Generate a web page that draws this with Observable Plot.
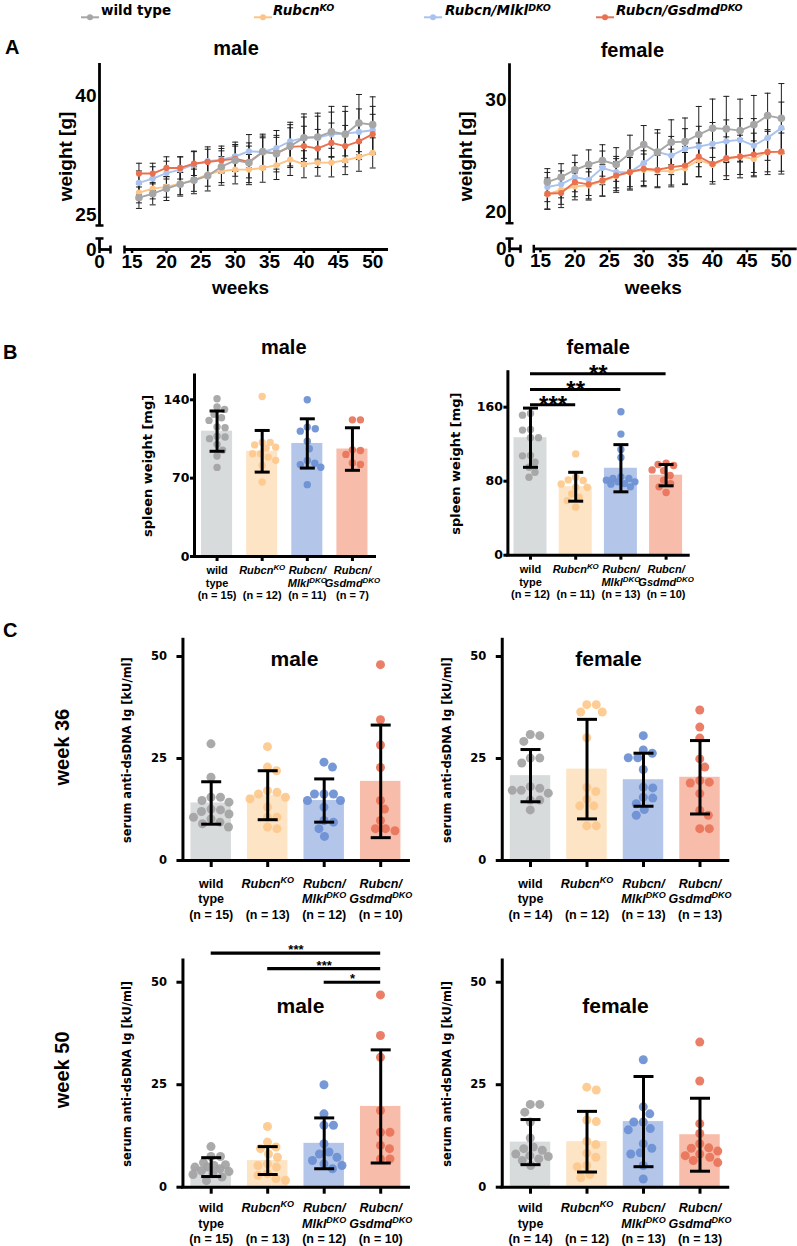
<!DOCTYPE html>
<html><head><meta charset="utf-8">
<script src="https://cdn.jsdelivr.net/npm/d3@7"></script>
<script src="https://cdn.jsdelivr.net/npm/@observablehq/plot@0.6"></script>
<style>
body{margin:0;background:#fff;}
#fig{position:relative;width:797px;height:1246px;overflow:hidden;background:#fff;font-family:'Liberation Sans',Arial,sans-serif;}
.plbl{position:absolute;font-weight:bold;font-size:20px;line-height:20px;}
.leg{position:absolute;font-family:'DejaVu Sans',Verdana,sans-serif;font-weight:bold;font-size:13.5px;line-height:16px;white-space:nowrap;}
.leg sup{font-size:70%;vertical-align:0.45em;line-height:0;}
</style></head><body><div id="fig"></div>
<script>
// ---------------- DATA ----------------
const groups = ["wt", "ko", "mlkl", "gsdmd"];
const tickLines = [["wild", "type"], ["~Rubcn^KO", ""], ["~Rubcn/", "~Mlkl^DKO"], ["~Rubcn/", "~Gsdmd^DKO"]];

// Panel A: body weight over time (mean, SD)
const weeks = [16, 18, 20, 22, 24, 26, 28, 30, 32, 34, 36, 38, 40, 42, 44, 46, 48, 50];
const weightMaleWT    = [27.2, 27.7, 28.35, 28.9, 29.4, 29.95, 31.1, 31.9, 31.6, 33.0, 32.75, 33.7, 34.75, 34.85, 35.5, 35.2, 36.6, 36.4];
const weightMaleKO    = [27.85, 28.35, 28.56, 28.98, 29.4, 30.15, 30.57, 30.74, 30.74, 30.95, 31.29, 32.0, 31.41, 31.62, 31.62, 31.91, 32.33, 32.84];
const weightMaleMlkl  = [29.07, 29.6, 30.3, 30.74, 31.37, 31.8, 32.0, 32.4, 33.05, 32.96, 33.46, 34.3, 34.76, 34.76, 35.18, 35.27, 35.48, 35.7];
const weightMaleGsdmd = [30.24, 30.24, 30.95, 30.95, 31.5, 31.7, 31.9, 32.1, 31.7, 32.95, 32.8, 33.6, 33.7, 33.4, 34.1, 33.7, 34.3, 35.2];
const sdMaleWT    = [1.35, 1.4, 1.5, 1.5, 1.7, 1.9, 2.0, 2.0, 2.5, 2.2, 2.3, 2.7, 3.0, 3.0, 3.2, 3.5, 3.6, 3.5];
const sdMaleKO    = [1.3, 1.3, 1.3, 1.4, 1.4, 1.5, 1.8, 1.8, 1.9, 1.8, 1.8, 2.0, 1.7, 1.7, 1.8, 1.8, 1.8, 1.9];
const sdMaleMlkl  = [1.5, 1.5, 1.5, 1.6, 1.7, 1.8, 1.7, 1.8, 2.1, 2.0, 2.2, 2.4, 2.6, 2.7, 2.8, 2.8, 2.9, 3.0];
const sdMaleGsdmd = [1.3, 1.3, 1.4, 1.4, 1.5, 1.6, 1.5, 1.6, 2.0, 1.8, 2.0, 2.4, 2.5, 2.4, 2.5, 2.6, 2.3, 2.5];

const weightFemaleWT    = [22.66, 23.1, 23.76, 24.23, 24.59, 24.23, 25.24, 26.0, 25.33, 26.21, 26.27, 26.9, 27.46, 27.4, 27.25, 27.78, 28.58, 28.34];
const weightFemaleKO    = [21.57, 21.98, 22.28, 22.37, 22.72, 23.2, 23.55, 23.76, 23.64, 23.64, 23.9, 24.64, 24.2, 24.73, 24.94, 24.73, 25.38, 25.33];
const weightFemaleMlkl  = [22.22, 22.46, 23.1, 22.87, 23.93, 23.55, 23.55, 24.35, 25.33, 25.03, 25.62, 25.83, 26.07, 26.3, 26.42, 25.92, 26.6, 27.49];
const weightFemaleGsdmd = [21.63, 21.69, 22.66, 22.46, 22.81, 23.25, 23.55, 23.85, 23.76, 24.0, 24.14, 24.94, 24.29, 24.79, 24.94, 25.12, 25.33, 25.38];
const sdFemaleWT    = [1.2, 1.2, 1.3, 1.3, 1.4, 1.5, 1.6, 1.7, 2.0, 2.0, 2.1, 2.5, 2.6, 2.9, 2.8, 2.6, 2.0, 3.1];
const sdFemaleKO    = [1.3, 1.3, 1.2, 1.2, 1.3, 1.3, 1.3, 1.4, 1.4, 1.4, 1.4, 1.5, 1.5, 1.5, 1.6, 1.6, 1.8, 1.7];
const sdFemaleMlkl  = [1.3, 1.2, 1.3, 1.4, 1.5, 1.4, 1.6, 1.6, 1.7, 1.7, 1.8, 1.8, 1.9, 1.9, 1.9, 2.4, 2.0, 2.3];
const sdFemaleGsdmd = [1.4, 1.3, 1.3, 1.4, 1.4, 1.5, 1.5, 1.6, 1.6, 1.6, 1.7, 1.8, 1.8, 1.9, 1.9, 1.9, 2.0, 2.0];

// Panel B: spleen weight [mg]
const spleenMaleWT    = [140.9, 131.4, 133.5, 127, 124, 121.6, 115.7, 115.1, 107.4, 106.8, 105.3, 100.2, 95, 89.8, 79.6];
const spleenMaleKO    = [142.9, 102, 102, 99.7, 97.7, 97, 91.8, 91.8, 88.8, 85.9, 81.4, 66.5];
const spleenMaleMlkl  = [140, 114.1, 115.6, 112, 103, 96.2, 85.7, 83.3, 82.1, 79.7, 64.2];
const spleenMaleGsdmd = [122.1, 122.1, 94.7, 95.3, 91.2, 83.5, 82.3];
const spleenMaleMean = [112, 94, 101, 96];
const spleenMaleSD   = [18, 18.6, 22, 19];
const spleenMaleN    = [15, 12, 11, 7];

const spleenFemaleWT    = [153.2, 151.4, 135.2, 135.9, 126.9, 126.9, 107.8, 107.4, 100.6, 84.3, 89.7, 95.1];
const spleenFemaleKO    = [109.5, 80.7, 84.3, 81.4, 77, 73.5, 66.2, 62.6, 59, 51.8, 73.4];
const spleenFemaleMlkl  = [155, 130.9, 105.6, 114.2, 81.1, 79.3, 77.4, 82.9, 76.8, 79.3, 84.7, 73.9, 82.9];
const spleenFemaleGsdmd = [98, 99.4, 96.9, 91.4, 92.2, 86.1, 81.1, 77.4, 73.9, 67.7];
const spleenFemaleMean = [127, 74, 94, 86.5];
const spleenFemaleSD   = [32, 15.6, 25.5, 11.5];
const spleenFemaleN    = [12, 11, 13, 10];
const spleenFemaleSig  = [{a: 0, b: 1, y: 162.6, label: "***"}, {a: 0, b: 2, y: 179.1, label: "**"}, {a: 0, b: 3, y: 196.1, label: "**"}];

// Panel C: serum anti-dsDNA Ig [kU/ml]
const dsdna36MaleWT    = [28.6, 20.4, 15.5, 15.5, 14.7, 14.3, 12.6, 12.4, 11.4, 10.6, 10.2, 9.4, 9.0, 8.2, 12.0];
const dsdna36MaleKO    = [27.9, 22.0, 22.9, 16.3, 16.7, 17.1, 15.5, 15.1, 13.1, 10.6, 10.6, 7.8, 8.2];
const dsdna36MaleMlkl  = [24.1, 22.9, 16.3, 16.3, 16.3, 14.7, 14.7, 9.4, 9.8, 7.8, 5.9, 13.1];
const dsdna36MaleGsdmd = [48.0, 34.5, 28.3, 22.8, 14.7, 12.6, 9.8, 7.8, 7.3, 7.8];
const dsdna36MaleMean = [14.1, 16.0, 14.7, 19.4];
const dsdna36MaleSD   = [5.2, 6.0, 5.3, 13.8];
const dsdna36MaleN    = [15, 13, 12, 10];

const dsdna36FemaleWT    = [30.6, 30.9, 29.2, 25.1, 25.1, 23.9, 18.1, 17.7, 17.2, 17.2, 14.8, 14.8, 12.4, 16.5];
const dsdna36FemaleKO    = [38.2, 38.2, 36.4, 36.4, 30.1, 16.9, 17.9, 15.0, 13.4, 13.4, 8.5, 8.5];
const dsdna36FemaleMlkl  = [30.6, 26.3, 27.1, 25.2, 25.2, 22.3, 17.8, 18.0, 15.5, 15.3, 13.9, 12.5, 11.1];
const dsdna36FemaleGsdmd = [36.9, 32.7, 30.0, 24.9, 22.9, 19.2, 19.6, 19.0, 16.4, 11.1, 12.3, 7.8, 7.8];
const dsdna36FemaleMean = [20.8, 22.4, 19.8, 20.4];
const dsdna36FemaleSD   = [6.4, 12.2, 6.5, 9.0];
const dsdna36FemaleN    = [14, 12, 13, 13];

const dsdna50MaleWT    = [9.9, 7.5, 7.5, 6.0, 4.9, 4.9, 5.3, 4.5, 3.3, 3.1, 2.5, 1.6, 4.0, 5.5, 3.8];
const dsdna50MaleKO    = [14.8, 9.8, 9.4, 8.1, 7.3, 5.7, 5.3, 4.9, 3.3, 2.9, 2.1, 1.7, 11.0];
const dsdna50MaleMlkl  = [25.0, 17.9, 15.1, 15.1, 10.6, 8.6, 7.3, 6.5, 8.1, 5.7, 5.3, 4.5];
const dsdna50MaleGsdmd = [46.9, 37.0, 31.7, 18.7, 13.4, 13.4, 10.2, 9.4, 6.9, 6.9];
const dsdna50MaleMean = [4.9, 6.5, 10.7, 19.7];
const dsdna50MaleSD   = [2.3, 3.4, 6.2, 13.8];
const dsdna50MaleN    = [15, 13, 12, 10];
const dsdna50MaleSig  = [{a: 0, b: 3, y: 57.1, label: "***"}, {a: 1, b: 3, y: 53.3, label: "***"}, {a: 2, b: 3, y: 50.0, label: "*"}];

const dsdna50FemaleWT    = [20.2, 20.2, 18.3, 15.9, 12.0, 9.8, 9.4, 9.0, 8.1, 7.7, 7.5, 6.9, 5.3, 6.5];
const dsdna50FemaleKO    = [23.7, 24.4, 16.4, 16.0, 10.4, 11.2, 7.3, 8.3, 5.0, 5.3, 2.3, 3.1];
const dsdna50FemaleMlkl  = [31.1, 17.9, 19.6, 15.9, 15.9, 14.3, 14.0, 9.5, 8.4, 10.6, 5.3, 8.1, 2.0];
const dsdna50FemaleGsdmd = [35.4, 25.9, 15.5, 13.1, 10.6, 9.5, 8.8, 9.6, 8.1, 7.7, 6.0, 6.5, 7.3];
const dsdna50FemaleMean = [11.0, 11.1, 16.0, 12.8];
const dsdna50FemaleSD   = [5.5, 7.4, 11.0, 8.9];
const dsdna50FemaleN    = [14, 12, 13, 13];

// ---------------- STYLE ----------------
const dotColor  = {wt: "#a3a3a3", ko: "#fdc98c", mlkl: "#6b8fd4", gsdmd: "#e8735a"};
const barColor  = {wt: "#d8dbdc", ko: "#fde4c4", mlkl: "#b3c6e9", gsdmd: "#f7bcaa"};
const lineColor = {wt: "#a6a6a6", ko: "#fcc486", mlkl: "#a9c3ee", gsdmd: "#e9714f"};
const fontSans = "'Liberation Sans', Arial, Helvetica, sans-serif";
const fontWide = "'DejaVu Sans', Verdana, sans-serif";
const SVGNS = "http://www.w3.org/2000/svg";
const fig = document.getElementById("fig");

const hbar = {draw(ctx, size) { const w = Math.sqrt(size / Math.PI); ctx.moveTo(-w, 0); ctx.lineTo(w, 0); }};
const vbar = {draw(ctx, size) { const w = Math.sqrt(size / Math.PI); ctx.moveTo(0, -w); ctx.lineTo(0, w); }};

function richify(svg) {
  svg.querySelectorAll("text, tspan").forEach((el) => {
    if (el.children.length) return;
    let s = el.textContent;
    if (!s.includes("~") && !s.includes("^")) return;
    const italic = s.startsWith("~");
    if (italic) s = s.slice(1);
    const [base, sup] = s.split("^");
    el.textContent = "";
    const t1 = document.createElementNS(SVGNS, "tspan");
    t1.textContent = base;
    if (italic) t1.setAttribute("font-style", "italic");
    el.appendChild(t1);
    if (sup) {
      const t2 = document.createElementNS(SVGNS, "tspan");
      t2.textContent = sup;
      t2.setAttribute("font-size", "72%");
      t2.setAttribute("baseline-shift", "super");
      if (italic) t2.setAttribute("font-style", "italic");
      el.appendChild(t2);
    }
  });
}

function place(svg, left, top) {
  svg.style.position = "absolute";
  svg.style.left = left + "px";
  svg.style.top = top + "px";
  svg.style.overflow = "visible";
  svg.style.background = "transparent";
  richify(svg);
  fig.appendChild(svg);
}

// deterministic scatter spread (in category units): points keep clear of each other
// where possible, staying within +/- limit px of the column centre (overlapping if needed)
function swarm(values, pxPerUnit, dist, limit, stepPx) {
  const pts = values.map((v, i) => ({v, i, y: v * pxPerUnit, x: 0}));
  const order = pts.slice().sort((a, b) => b.v - a.v);
  const placed = [];
  const out = new Array(values.length);
  const grid = d3.range(-limit, limit + 0.001, 0.5);
  let flip = 1;
  for (const p of order) {
    const near = placed.filter((q) => Math.abs(q.y - p.y) < dist);
    const minDist = (c) => near.reduce((m, q) => Math.min(m, Math.hypot(q.x - c, q.y - p.y)), Infinity);
    const cands = grid.slice().sort((a, b) => (Math.abs(a) - Math.abs(b)) || (flip * (b - a)));
    let x = null;
    for (const c of cands) { if (minDist(c) >= dist) { x = c; break; } }
    if (x === null) {
      let best = -1;
      for (const c of cands) { const m = minDist(c); if (m > best + 1e-9) { best = m; x = c; } }
    }
    flip = -flip;
    p.x = x;
    placed.push(p);
    out[p.i] = x / stepPx;
  }
  return out;
}

// ---------------- PANEL A ----------------
function weightPanel(o) {
  const rows = [];
  groups.forEach((g, gi) => o.mean[gi].forEach((m, i) => rows.push({g, week: weeks[i], mean: m, sd: o.sd[gi][i]})));
  const drawOrder = ["mlkl", "ko", "gsdmd", "wt"];
  const axisW = 2.8;
  const svg = Plot.plot({
    width: o.width, height: o.height,
    marginLeft: o.x.range[0], marginRight: o.width - o.x.range[2],
    marginTop: o.y.range[2], marginBottom: o.height - o.y.range[0],
    x: {type: "linear", domain: o.x.domain, range: o.x.range},
    y: {type: "linear", domain: o.y.domain, range: o.y.range},
    style: {fontFamily: fontSans, fontWeight: "bold", color: "black"},
    marks: [
      Plot.ruleX([0], {y1: 0, y2: o.yStub, strokeWidth: axisW}),
      Plot.ruleX([0], {y1: o.y.domain[1], y2: o.y.domain[2], strokeWidth: axisW}),
      Plot.ruleY([0], {x1: 0, x2: o.xStub, strokeWidth: axisW}),
      Plot.ruleY([0], {x1: o.x.domain[1], x2: o.x.domain[2], strokeWidth: axisW}),
      Plot.dot([o.y.domain[1], o.yStub], {x: 0, y: (d) => d, symbol: hbar, r: 4, fill: "none", stroke: "black", strokeWidth: 2.5}),
      Plot.dot([o.xStub, o.x.domain[1]], {x: (d) => d, y: 0, symbol: vbar, r: 4, fill: "none", stroke: "black", strokeWidth: 2.5}),
      Plot.ruleX(rows, {x: "week", y1: (d) => d.mean - d.sd, y2: (d) => d.mean + d.sd, stroke: "#1e1e1e", strokeWidth: 1}),
      Plot.dot(rows, {x: "week", y: (d) => d.mean + d.sd, symbol: hbar, r: 3, fill: "none", stroke: "#1e1e1e", strokeWidth: 1}),
      Plot.dot(rows, {x: "week", y: (d) => d.mean - d.sd, symbol: hbar, r: 3, fill: "none", stroke: "#1e1e1e", strokeWidth: 1}),
      ...drawOrder.flatMap((g) => [
        Plot.line(rows.filter((d) => d.g === g), {x: "week", y: "mean", stroke: lineColor[g], strokeWidth: 1.9}),
        Plot.dot(rows.filter((d) => d.g === g), {x: "week", y: "mean", fill: lineColor[g], r: g === "wt" ? 3.8 : 3.1})
      ]),
      Plot.axisX({ticks: o.xTicks, tickSize: 4, tickPadding: 1, strokeWidth: 2.5, fontSize: 19, fontFamily: fontSans, fontWeight: "bold", label: null}),
      Plot.axisY({ticks: o.yTicks, tickSize: 0, tickPadding: 3, fontSize: 19, fontFamily: fontSans, fontWeight: "bold", label: null}),
      Plot.text([o.title], {text: (d) => d, frameAnchor: "top", lineAnchor: "middle", textAnchor: "middle", dx: o.titleDx, dy: o.titleDy, fontSize: 20, fontWeight: "bold", fontFamily: fontSans}),
      Plot.text(["weeks"], {text: (d) => d, frameAnchor: "bottom", lineAnchor: "middle", textAnchor: "middle", dx: o.weeksDx, dy: o.weeksDy, fontSize: 19, fontWeight: "bold", fontFamily: fontSans}),
      Plot.text(["weight [g]"], {text: (d) => d, frameAnchor: "left", lineAnchor: "middle", textAnchor: "middle", rotate: -90, dx: o.ylabDx, fontSize: 19, fontWeight: "bold", fontFamily: fontSans})
    ]
  });
  place(svg, o.left, o.top);
}

weightPanel({
  left: 40, top: 40, width: 360, height: 260,
  x: {domain: [0, 13.9, 52.3], range: [59, 84, 348]},
  y: {domain: [0, 23.7, 44.1], range: [209, 185, 23]},
  xStub: 6.1, yStub: 10.9,
  xTicks: [0, 15, 20, 25, 30, 35, 40, 45, 50], yTicks: [0, 25, 40],
  mean: [weightMaleWT, weightMaleKO, weightMaleMlkl, weightMaleGsdmd],
  sd: [sdMaleWT, sdMaleKO, sdMaleMlkl, sdMaleGsdmd],
  title: "male", titleDx: -8, titleDy: -14.5, weeksDx: -3.5, weeksDy: 38, ylabDx: -34
});
weightPanel({
  left: 440, top: 40, width: 357, height: 260,
  x: {domain: [0, 14.03, 52.3], range: [69, 93.3, 356.7]},
  y: {domain: [0, 19.0, 33.2], range: [208.3, 182.7, 23.3]},
  xStub: 6.35, yStub: 7.6,
  xTicks: [0, 15, 20, 25, 30, 35, 40, 45, 50], yTicks: [0, 20, 30],
  mean: [weightFemaleWT, weightFemaleKO, weightFemaleMlkl, weightFemaleGsdmd],
  sd: [sdFemaleWT, sdFemaleKO, sdFemaleMlkl, sdFemaleGsdmd],
  title: "female", titleDx: -21, titleDy: -13.3, weeksDx: 0, weeksDy: 38.7, ylabDx: -44
});

// ---------------- PANELS B & C ----------------
function barPanel(o) {
  const fw = o.width - o.ml - o.mr;
  const fh = o.height - o.mt - o.mb;
  const step = fw / 4;
  const ppu = fh / o.yMax;
  const limit = o.barHalf * step - 2;
  const pts = [];
  o.values.forEach((vals, gi) => {
    const off = swarm(vals, ppu, o.r * 2.1, limit, step);
    vals.forEach((v, j) => pts.push({gi, v, x: gi + off[j]}));
  });
  const summ = groups.map((g, gi) => ({gi, g, mean: o.mean[gi], sd: o.sd[gi]}));
  const marks = [
    Plot.rectY(summ, {x1: (d) => d.gi - o.barHalf, x2: (d) => d.gi + o.barHalf, y1: 0, y2: "mean", fill: (d) => barColor[d.g]}),
    Plot.dot(pts, {x: "x", y: "v", r: o.r, fill: (d) => dotColor[groups[d.gi]], fillOpacity: 0.92}),
    Plot.ruleX(summ, {x: "gi", y1: (d) => d.mean - d.sd, y2: (d) => d.mean + d.sd, strokeWidth: 3}),
    Plot.dot(summ, {x: "gi", y: (d) => d.mean + d.sd, symbol: hbar, r: o.capR, fill: "none", stroke: "black", strokeWidth: 3}),
    Plot.dot(summ, {x: "gi", y: (d) => d.mean - d.sd, symbol: hbar, r: o.capR, fill: "none", stroke: "black", strokeWidth: 3}),
    Plot.ruleX([-0.5], {strokeWidth: 3, strokeLinecap: "square"}),
    Plot.ruleY([0], {strokeWidth: 3, strokeLinecap: "square"}),
    Plot.axisX({ticks: [0, 1, 2, 3], tickFormat: (i) => [...tickLines[i], `(n = ${o.n[i]})`].join("\n"),
      tickSize: o.xTickSize, tickPadding: o.xTickPad, strokeWidth: 3, fontSize: o.xFont, lineHeight: o.xLH,
      fontFamily: fontSans, fontWeight: "bold", label: null}),
    Plot.axisY({ticks: o.yTicks, tickSize: o.yTickSize, tickPadding: o.yTickPad, strokeWidth: 3, fontSize: o.yFont,
      fontFamily: fontWide, fontWeight: "bold", label: null}),
    Plot.text([o.title], {text: (d) => d, frameAnchor: "top", lineAnchor: "middle", textAnchor: "middle", dx: o.titleDx, dy: o.titleDy, fontSize: o.titleSize, fontWeight: "bold", fontFamily: fontSans}),
    Plot.text([o.ylabel], {text: (d) => d, frameAnchor: "left", lineAnchor: "middle", textAnchor: "middle", rotate: -90, dx: o.ylabDx, fontSize: o.ylabSize, fontWeight: "bold", fontFamily: fontWide})
  ];
  if (o.sig) {
    marks.push(
      Plot.ruleY(o.sig, {y: "y", x1: "a", x2: "b", strokeWidth: 3.2}),
      Plot.text(o.sig, {x: (d) => (d.a + d.b) / 2, y: "y", text: "label", lineAnchor: "middle", fontSize: o.starSize, dy: o.starDy, fontWeight: "bold", fontFamily: fontSans})
    );
  }
  if (o.week) {
    marks.push(Plot.text([o.week], {text: (d) => d, frameAnchor: "left", lineAnchor: "middle", textAnchor: "middle", rotate: -90, dx: o.weekDx, dy: o.weekDy, fontSize: 20, fontWeight: "bold", fontFamily: fontSans}));
  }
  const svg = Plot.plot({
    width: o.width, height: o.height,
    marginLeft: o.ml, marginRight: o.mr, marginTop: o.mt, marginBottom: o.mb,
    x: {domain: [-0.5, 3.5]},
    y: {domain: [0, o.yMax]},
    color: {type: "identity"},
    style: {fontFamily: fontSans, fontWeight: "bold", color: "black"},
    marks
  });
  place(svg, o.left, o.top);
}

const bCommon = {r: 3.7, capR: 7.5, xTickSize: 5, xTickPad: 4, xFont: 11, xLH: 1.14, yTickSize: 4, yTickPad: 1, yFont: 12.5,
  titleSize: 20, ylabel: "spleen weight [mg]", ylabSize: 13};
barPanel({...bCommon,
  left: 100, top: 330, width: 290, height: 280, ml: 94, mr: 15.5, mt: 45, mb: 54,
  yMax: 161.7, yTicks: [0, 70, 140], barHalf: 0.344,
  values: [spleenMaleWT, spleenMaleKO, spleenMaleMlkl, spleenMaleGsdmd],
  mean: spleenMaleMean, sd: spleenMaleSD, n: spleenMaleN,
  title: "male", titleDx: -1, titleDy: -28, ylabDx: -47
});
barPanel({...bCommon,
  left: 420, top: 325, width: 290, height: 285, ml: 87.4, mr: 21.8, mt: 46.7, mb: 55.3,
  yMax: 197.8, yTicks: [0, 80, 160], barHalf: 0.365,
  values: [spleenFemaleWT, spleenFemaleKO, spleenFemaleMlkl, spleenFemaleGsdmd],
  mean: spleenFemaleMean, sd: spleenFemaleSD, n: spleenFemaleN,
  title: "female", titleDx: 0, titleDy: -24.5, ylabDx: -52,
  sig: spleenFemaleSig, starSize: 24, starDy: 1
});

const cCommon = {r: 4.5, capR: 10, xTickSize: 7, xFont: 12.5, xLH: 1.23, yTickSize: 6, yTickPad: 10, yFont: 11.5,
  titleSize: 21, ylabel: "serum anti-dsDNA Ig [kU/ml]", ylabSize: 11.5, barHalf: 0.358, yTicks: [0, 25, 50]};
barPanel({...cCommon,
  left: 30, top: 625, width: 390, height: 295, ml: 152.45, mr: 11.55, mt: 14.3, mb: 60, xTickPad: 9.5,
  yMax: 54.1,
  values: [dsdna36MaleWT, dsdna36MaleKO, dsdna36MaleMlkl, dsdna36MaleGsdmd],
  mean: dsdna36MaleMean, sd: dsdna36MaleSD, n: dsdna36MaleN,
  title: "male", titleDx: -1.5, titleDy: 19.7, ylabDx: -55.5,
  week: "week 36", weekDx: -120.5, weekDy: -3
});
barPanel({...cCommon,
  left: 420, top: 625, width: 377, height: 295, ml: 81.75, mr: 69.25, mt: 14.3, mb: 60, xTickPad: 9.5,
  yMax: 54.1,
  values: [dsdna36FemaleWT, dsdna36FemaleKO, dsdna36FemaleMlkl, dsdna36FemaleGsdmd],
  mean: dsdna36FemaleMean, sd: dsdna36FemaleSD, n: dsdna36FemaleN,
  title: "female", titleDx: -6.75, titleDy: 19.7, ylabDx: -55
});
barPanel({...cCommon,
  left: 30, top: 935, width: 390, height: 310, ml: 152.45, mr: 11.55, mt: 25, mb: 58.3, xTickPad: 7.2,
  yMax: 55.3,
  values: [dsdna50MaleWT, dsdna50MaleKO, dsdna50MaleMlkl, dsdna50MaleGsdmd],
  mean: dsdna50MaleMean, sd: dsdna50MaleSD, n: dsdna50MaleN,
  title: "male", titleDx: 4.5, titleDy: 46, ylabDx: -55.5,
  sig: dsdna50MaleSig, starSize: 13, starDy: -3,
  week: "week 50", weekDx: -120.5, weekDy: -4
});
barPanel({...cCommon,
  left: 420, top: 935, width: 377, height: 310, ml: 81.75, mr: 69.25, mt: 25, mb: 58.3, xTickPad: 7.2,
  yMax: 55.3,
  values: [dsdna50FemaleWT, dsdna50FemaleKO, dsdna50FemaleMlkl, dsdna50FemaleGsdmd],
  mean: dsdna50FemaleMean, sd: dsdna50FemaleSD, n: dsdna50FemaleN,
  title: "female", titleDx: 0.25, titleDy: 46, ylabDx: -55
});

// ---------------- LEGEND & PANEL LETTERS ----------------
const legendItems = [
  {g: "wt", html: "wild type", mx: 80, tx: 101},
  {g: "ko", html: "<i>Rubcn</i><sup><i>KO</i></sup>", mx: 253, tx: 273},
  {g: "mlkl", html: "<i>Rubcn/Mlkl</i><sup><i>DKO</i></sup>", mx: 423, tx: 445},
  {g: "gsdmd", html: "<i>Rubcn/Gsdmd</i><sup><i>DKO</i></sup>", mx: 595, tx: 616}
];
legendItems.forEach((it) => {
  const m = document.createElement("div");
  m.style.cssText = `position:absolute;left:${it.mx}px;top:8px;width:20px;height:10px;`;
  m.innerHTML = `<svg width="20" height="10"><line x1="1" x2="19" y1="5.3" y2="5.3" stroke="${lineColor[it.g]}" stroke-width="2"/><circle cx="10" cy="5.3" r="3" fill="${lineColor[it.g]}"/></svg>`;
  fig.appendChild(m);
  const t = document.createElement("div");
  t.className = "leg";
  t.style.left = it.tx + "px";
  t.style.top = "2px";
  t.innerHTML = it.html;
  fig.appendChild(t);
});
[["A", 5, 37], ["B", 3, 342], ["C", 3, 620]].forEach(([s, x, y]) => {
  const d = document.createElement("div");
  d.className = "plbl";
  d.style.left = x + "px"; d.style.top = y + "px";
  d.textContent = s;
  fig.appendChild(d);
});
</script></body></html>
